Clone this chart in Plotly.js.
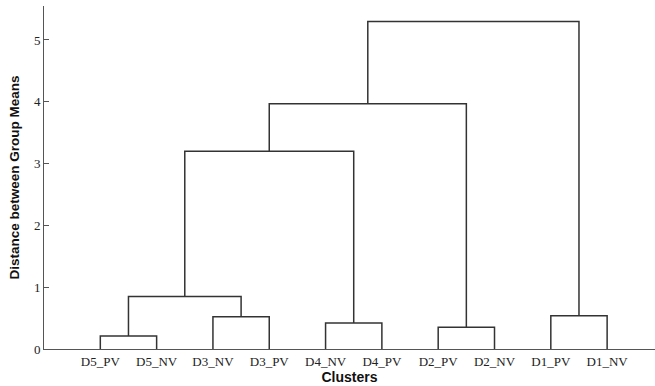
<!DOCTYPE html>
<html>
<head>
<meta charset="utf-8">
<script src="https://cdn.plot.ly/plotly-3.0.1.min.js"></script>
<style>html,body{margin:0;padding:0;background:#fff;}#chart{width:655px;height:386px;}</style>
</head>
<body>
<div id="chart"></div>
<script>
// Leaf labels in dendrogram order
const leafLabels = ["D5_PV","D5_NV","D3_NV","D3_PV","D4_NV","D4_PV","D2_PV","D2_NV","D1_PV","D1_NV"];
// Linkage: node ids 0..9 are leaves, each merge creates node 10, 11, ...
const mergeLeft   = [0, 2, 10, 4, 12, 6, 14, 8, 16];
const mergeRight  = [1, 3, 11, 5, 13, 7, 15, 9, 17];
const mergeHeight = [0.21, 0.52, 0.85, 0.42, 3.20, 0.35, 3.97, 0.54, 5.30];
const yTicks = [0, 1, 2, 3, 4, 5];

const nodeX = leafLabels.map((_, i) => i + 1);
const nodeY = leafLabels.map(() => 0);
const traces = [];
for (let k = 0; k < mergeHeight.length; k++) {
  const a = mergeLeft[k], b = mergeRight[k], h = mergeHeight[k];
  traces.push({
    type: 'scatter', mode: 'lines',
    x: [nodeX[a], nodeX[a], nodeX[b], nodeX[b]],
    y: [nodeY[a], h, h, nodeY[b]],
    line: {color: '#333333', width: 1.5},
    hoverinfo: 'skip', showlegend: false, cliponaxis: false
  });
  nodeX.push((nodeX[a] + nodeX[b]) / 2);
  nodeY.push(h);
}

const layout = {
  width: 655, height: 386,
  margin: {l: 44, r: 0, t: 6, b: 37},
  paper_bgcolor: '#ffffff', plot_bgcolor: '#ffffff',
  showlegend: false,
  xaxis: {
    range: [0, 10.85],
    tickvals: leafLabels.map((_, i) => i + 1),
    ticktext: leafLabels,
    showgrid: false, zeroline: false,
    showline: true, linecolor: '#555555', linewidth: 1,
    ticks: '',
    tickfont: {family: 'Liberation Serif, Times New Roman, serif', size: 13, color: '#222222'},
    title: {text: 'Clusters', font: {family: 'Liberation Sans, Arial, sans-serif', size: 14, color: '#111111', weight: 'bold'}, standoff: 2}
  },
  yaxis: {
    range: [0, 5.55],
    tickvals: yTicks,
    ticktext: yTicks.map(String),
    showgrid: false, zeroline: false,
    showline: true, linecolor: '#555555', linewidth: 1,
    ticks: 'inside', ticklen: 5, tickcolor: '#555555', tickwidth: 1,
    tickfont: {family: 'Liberation Serif, Times New Roman, serif', size: 13, color: '#222222'},
    title: {text: 'Distance between Group Means', font: {family: 'Liberation Sans, Arial, sans-serif', size: 13.5, color: '#111111', weight: 'bold'}, standoff: 11}
  }
};

Plotly.newPlot('chart', traces, layout, {displayModeBar: false, staticPlot: true});
</script>
</body>
</html>
